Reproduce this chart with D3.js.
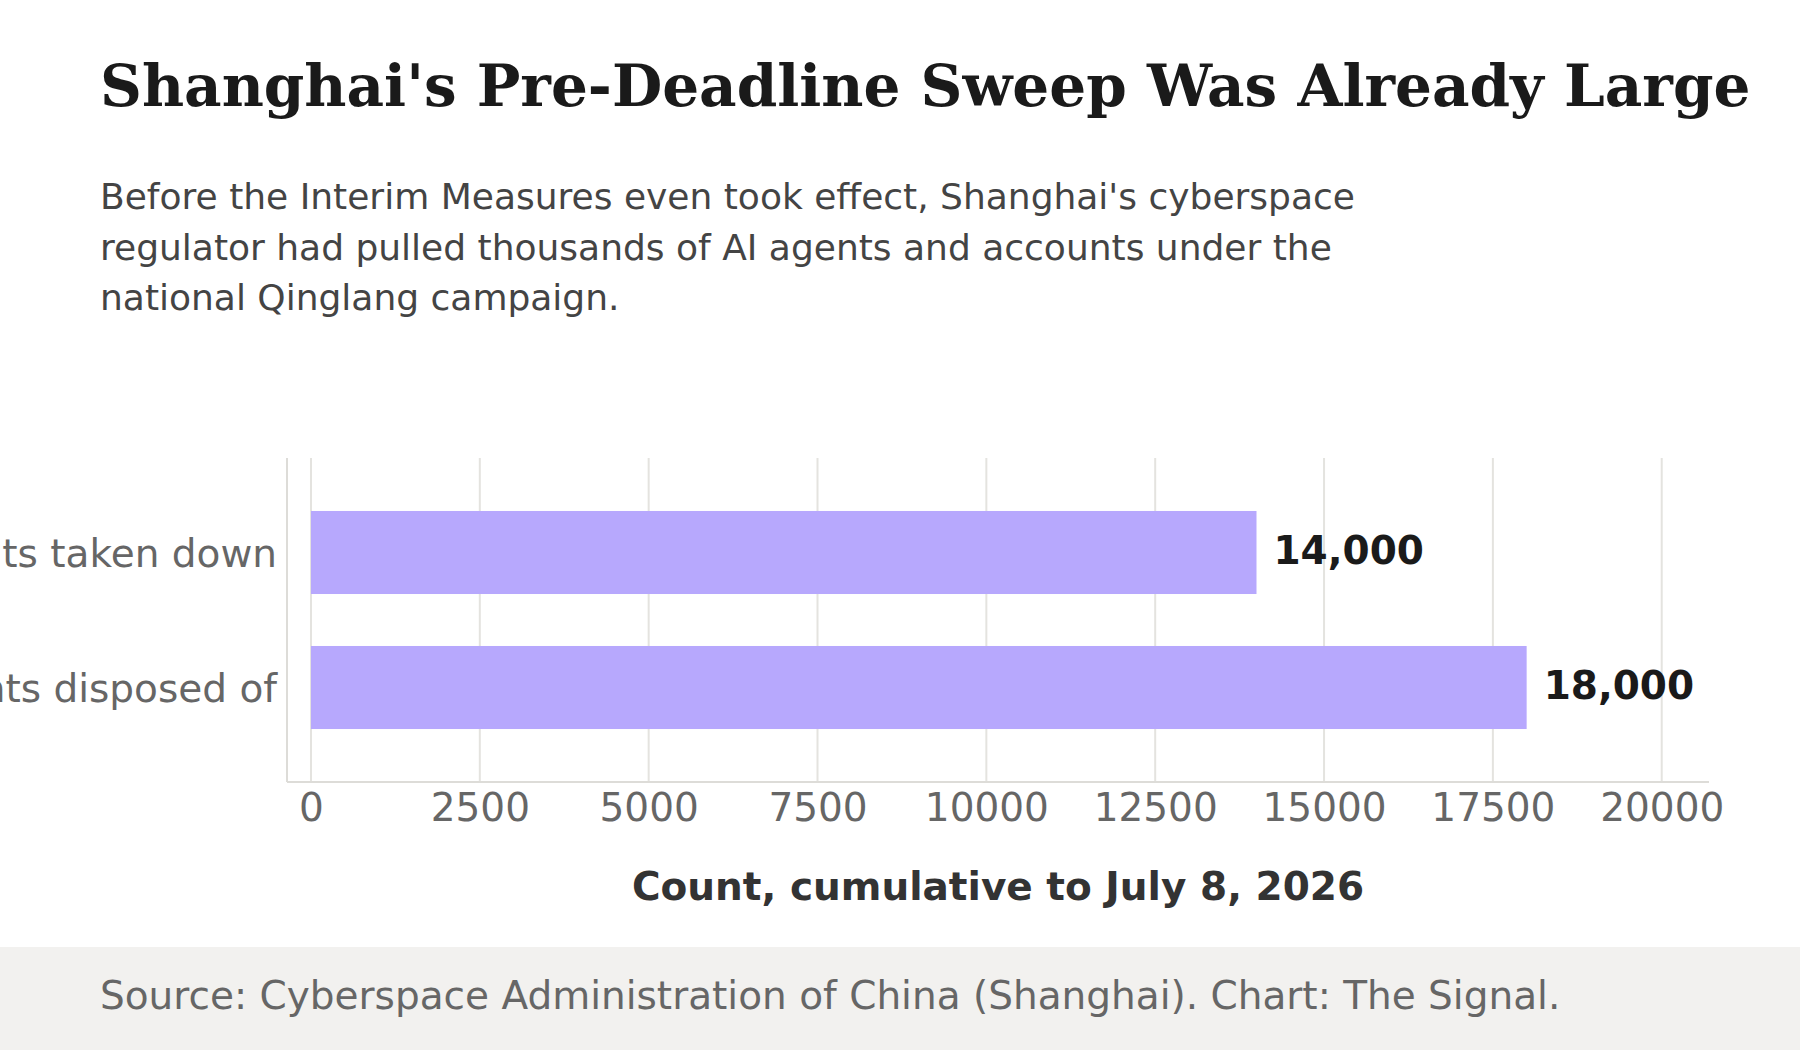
<!DOCTYPE html>
<html>
<head>
<meta charset="utf-8">
<script src="https://cdn.jsdelivr.net/npm/d3@7"></script>
<style>
  html, body { margin: 0; padding: 0; background: #fff; }
  svg { display: block; }
</style>
</head>
<body>
<svg id="chart" width="1800" height="1050"></svg>
<script>
// data
var categories = ["AI agents taken down", "Accounts disposed of"];
var counts = [14000, 18000];
var valueLabels = ["14,000", "18,000"];
var tickValues = [0, 2500, 5000, 7500, 10000, 12500, 15000, 17500, 20000];

var titleText = "Shanghai's Pre-Deadline Sweep Was Already Large";
var subtitleLines = [
  "Before the Interim Measures even took effect, Shanghai's cyberspace",
  "regulator had pulled thousands of AI agents and accounts under the",
  "national Qinglang campaign."
];
var axisTitle = "Count, cumulative to July 8, 2026";
var sourceText = "Source: Cyberspace Administration of China (Shanghai). Chart: The Signal.";

var W = 1800, H = 1050;
var plot = {left: 287, right: 1709, top: 458, bottom: 782};
var sans = "'DejaVu Sans', Verdana, sans-serif";
var serif = "'DejaVu Serif', Georgia, serif";

var svg = d3.select("#chart");

svg.append("rect").attr("x",0).attr("y",0).attr("width",W).attr("height",H).attr("fill","#ffffff");

// title + subtitle
svg.append("text")
  .attr("x",100).attr("y",106)
  .attr("font-family",serif).attr("font-weight","bold").attr("font-size",58)
  .attr("fill","#1a1a1a")
  .text(titleText);

svg.append("g").selectAll("text")
  .data(subtitleLines)
  .enter()
  .append("text")
  .attr("x",100)
  .attr("y",function(d,i){ return 209 + i*50.5; })
  .attr("font-family",sans).attr("font-size",36)
  .attr("fill","#444444")
  .text(function(d){ return d; });

// scales
var x = d3.scaleLinear().domain([-355, 20700]).range([plot.left, plot.right]);
var y = d3.scaleBand().domain(categories).range([plot.top, plot.bottom]).paddingInner(0.385).paddingOuter(0.3925);

// grid
svg.append("g").selectAll("line")
  .data(tickValues)
  .enter()
  .append("line")
  .attr("x1",function(d){ return x(d); }).attr("x2",function(d){ return x(d); })
  .attr("y1",plot.top).attr("y2",plot.bottom)
  .attr("stroke","#e4e3df").attr("stroke-width",2);

// axis lines
svg.append("line").attr("x1",plot.left).attr("x2",plot.left).attr("y1",plot.top).attr("y2",plot.bottom)
  .attr("stroke","#dddcd8").attr("stroke-width",2);
svg.append("line").attr("x1",plot.left).attr("x2",plot.right).attr("y1",plot.bottom).attr("y2",plot.bottom)
  .attr("stroke","#dddcd8").attr("stroke-width",2);

// bars
svg.append("g").selectAll("rect")
  .data(categories)
  .enter()
  .append("rect")
  .attr("x",x(0))
  .attr("y",function(d){ return y(d); })
  .attr("width",function(d,i){ return x(counts[i]) - x(0); })
  .attr("height",y.bandwidth())
  .attr("fill","#b7a8fd");

// value labels
svg.append("g").selectAll("text")
  .data(categories)
  .enter()
  .append("text")
  .attr("x",function(d,i){ return x(counts[i]) + 17; })
  .attr("y",function(d){ return y(d) + y.bandwidth()/2; })
  .attr("dy","0.3em")
  .attr("font-family",sans).attr("font-weight","bold").attr("font-size",39)
  .attr("fill","#1a1a1a")
  .text(function(d,i){ return valueLabels[i]; });

// category labels
svg.append("g").selectAll("text")
  .data(categories)
  .enter()
  .append("text")
  .attr("x",plot.left - 10)
  .attr("y",function(d){ return y(d) + y.bandwidth()/2; })
  .attr("dy","0.38em")
  .attr("text-anchor","end")
  .attr("font-family",sans).attr("font-size",39)
  .attr("fill","#666666")
  .text(function(d){ return d; });

// x axis tick labels
var xAxis = d3.axisBottom(x).tickValues(tickValues).tickSize(0).tickPadding(11).tickFormat(d3.format("d"));
var gx = svg.append("g").attr("transform","translate(0,"+plot.bottom+")").call(xAxis);
gx.select(".domain").remove();
gx.selectAll("text")
  .attr("font-family",sans).attr("font-size",39).attr("fill","#666666")
  .attr("dy","0.71em");

// axis title
svg.append("text")
  .attr("x",(plot.left+plot.right)/2).attr("y",900)
  .attr("text-anchor","middle")
  .attr("font-family",sans).attr("font-weight","bold").attr("font-size",39)
  .attr("fill","#333333")
  .text(axisTitle);

// footer
svg.append("rect").attr("x",0).attr("y",947).attr("width",W).attr("height",H-947).attr("fill","#f2f1ef");
svg.append("text")
  .attr("x",100).attr("y",1009)
  .attr("font-family",sans).attr("font-size",39)
  .attr("fill","#666666")
  .text(sourceText);
</script>
</body>
</html>
